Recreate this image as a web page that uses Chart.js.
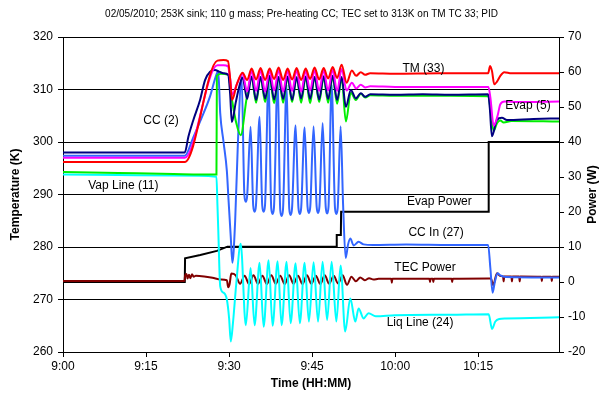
<!DOCTYPE html>
<html lang="en">
<head>
    <meta charset="UTF-8">
    <title>TEC / CC pre-heating run</title>
    <script src="https://cdn.jsdelivr.net/npm/chart.js@4.4.0/dist/chart.umd.min.js"></script>
    <style>
        body { margin: 0; background: #fff; }
        #wrap { width: 603px; height: 398px; }
    </style>
</head>
<body>
    <div id="wrap"><canvas id="chart" width="603" height="398"></canvas></div>

    <script>
        // time is minutes after 9:00, temperatures in K, power in W
        const ccTwo = [
            [0, 298.0], [22.0, 298.0], [22.65, 301.0], [23.55, 304.2], [24.76, 308.0], [25.66, 311.8],
            [26.57, 313.4], [27.47, 313.7], [28.2, 313.4], [29.0, 313.1], [29.85, 312.8], [30.2, 309.0],
            [30.5, 303.8], [31.2, 307.5], [31.9, 310.8], [32.44, 312.3], [33.26, 308.2], [34.07, 312.5],
            [34.88, 308.0], [35.69, 312.4], [36.51, 308.3], [37.32, 312.6], [38.14, 308.1], [38.95, 312.4],
            [39.76, 308.2], [40.57, 312.5], [41.39, 308.0], [42.20, 312.3], [43.02, 308.3], [43.83, 312.5],
            [44.64, 308.2], [45.45, 312.4], [46.27, 308.1], [47.08, 312.5], [47.89, 308.2], [48.71, 312.6],
            [49.52, 308.0], [50.33, 312.4], [51.1, 306.7], [52.0, 309.9], [52.9, 308.3], [53.8, 309.3],
            [54.6, 308.6], [55.5, 309.1], [60, 309.0], [65, 309.1], [70, 309.0], [76.8, 309.1],
            [77.1, 306.5], [77.48, 301.1], [78.38, 304.2], [79.29, 304.6], [80.2, 304.2], [85, 304.4], [89.6, 304.5]
        ];

        const tmThirtyThree = [
            [0, 296.2], [22.0, 296.2], [27.9, 315.5], [29.0, 315.6], [29.8, 315.4], [30.2, 312.0],
            [30.55, 308.0], [31.4, 311.0], [32.44, 313.2], [33.26, 311.8], [34.07, 314.0], [34.88, 311.9],
            [35.69, 314.1], [36.51, 311.8], [37.32, 314.0], [38.14, 312.0], [38.95, 314.2], [39.76, 311.8],
            [40.57, 314.0], [41.39, 311.9], [42.20, 314.1], [43.02, 311.8], [43.83, 314.0], [44.64, 312.0],
            [45.45, 314.2], [46.27, 311.9], [47.08, 314.1], [47.89, 312.1], [48.71, 314.3], [49.52, 312.2],
            [50.33, 314.7], [51.24, 311.3], [52.18, 313.6], [52.95, 312.6], [53.80, 313.3], [54.58, 312.8],
            [55.49, 313.1], [60, 313.0], [68, 313.1], [76.8, 313.1], [77.15, 314.5], [77.5, 313.5],
            [77.9, 311.0], [78.4, 311.5], [79.0, 312.6], [79.7, 313.3], [81, 313.1], [89.6, 313.1]
        ];

        const evapFive = [
            [0, 297.0], [22.0, 297.0], [27.9, 314.6], [29.0, 314.6], [29.8, 314.4], [30.2, 312.0],
            [30.55, 309.0], [31.4, 311.0], [32.44, 313.0], [33.26, 309.6], [34.07, 313.6], [34.88, 309.7],
            [35.69, 313.7], [36.51, 309.6], [37.32, 313.6], [38.14, 309.8], [38.95, 313.7], [39.76, 309.6],
            [40.57, 313.6], [41.39, 309.7], [42.20, 313.7], [43.02, 309.6], [43.83, 313.6], [44.64, 309.8],
            [45.45, 313.7], [46.27, 309.7], [47.08, 313.7], [47.89, 309.8], [48.71, 313.8], [49.52, 309.7],
            [50.33, 313.9], [51.24, 309.8], [52.18, 311.3], [52.95, 310.2], [53.80, 310.9], [54.58, 310.4],
            [55.49, 310.6], [60, 310.5], [70, 310.5], [76.85, 310.5], [77.2, 308.5], [77.8, 303.1],
            [78.5, 305.0], [79.0, 307.2], [79.8, 307.7], [82, 307.6], [89.6, 307.7]
        ];

        const vapLine = [
            [0, 294.3], [10, 294.1], [20, 293.9], [27.72, 293.8], [27.8, 312.6], [28.5, 313.0],
            [29.85, 312.8], [30.5, 308.2], [31.3, 303.6], [32.1, 301.3], [33.2, 308.5], [34.07, 312.3],
            [34.88, 307.5], [35.69, 312.4], [36.51, 307.6], [37.32, 312.3], [38.14, 307.4], [38.95, 312.4],
            [39.76, 307.5], [40.57, 312.3], [41.39, 307.6], [42.20, 312.4], [43.02, 307.5], [43.83, 312.3],
            [44.64, 307.4], [45.45, 312.4], [46.27, 307.6], [47.08, 312.3], [47.89, 307.5], [48.71, 312.4],
            [49.52, 307.3], [50.33, 312.2], [51.1, 303.9], [52.0, 309.4], [52.9, 308.0], [53.8, 309.2],
            [54.6, 308.5], [55.5, 308.9], [60, 308.8], [70, 308.8], [76.85, 308.7], [77.3, 305.5],
            [77.8, 302.1], [78.4, 303.6], [79.0, 304.1], [79.6, 303.7], [81, 304.0], [89.6, 303.9]
        ];

        const ccIn = [
            [0, 297.4], [22.0, 297.4], [23.5, 300.8], [25.0, 304.5], [26.5, 308.5], [27.7, 312.8],
            [28.05, 313.5], [28.4, 305.5], [29.0, 300.0], [29.6, 294.5], [29.9, 289.0], [30.3, 282.0],
            [30.6, 277.0], [31.1, 285.0], [31.6, 300.0], [32.26, 312.5],
            [32.77, 289.8], [33.02, 288.6], [33.27, 289.8], [33.89, 302.9],
            [34.36, 287.9], [34.61, 286.7], [34.86, 287.9], [35.51, 304.8],
            [35.99, 287.9], [36.24, 286.7], [36.49, 287.9], [37.14, 312.4],
            [37.61, 287.5], [37.86, 286.3], [38.11, 287.5], [38.77, 312.5],
            [39.24, 287.1], [39.49, 285.9], [39.74, 287.1], [40.39, 311.0],
            [40.87, 287.3], [41.12, 286.1], [41.37, 287.3], [42.02, 303.2],
            [42.53, 287.5], [42.78, 286.3], [43.03, 287.5], [43.65, 302.8],
            [44.17, 287.7], [44.42, 286.5], [44.67, 287.7], [45.27, 303.0],
            [45.82, 287.7], [46.07, 286.5], [46.32, 287.7], [46.90, 303.6],
            [47.46, 287.6], [47.71, 286.4], [47.96, 287.6], [48.53, 310.9],
            [49.13, 287.5], [49.38, 286.3], [49.63, 287.5], [50.15, 303.0],
            [50.6, 288.0], [51.06, 277.9], [51.5, 280.5], [51.9, 281.6], [52.5, 280.3], [53.4, 281.0],
            [54.3, 280.5], [56, 280.4], [62, 280.5], [70, 280.4], [76.8, 280.4], [77.2, 276.0],
            [77.6, 271.3], [78.0, 273.3], [78.5, 275.0], [79.0, 274.6], [80, 274.3], [89.6, 274.2]
        ];

        const liqLine = [
            [0, 293.8], [10, 293.7], [20, 293.6], [27.72, 293.4], [27.9, 288.0], [28.05, 283.2],
            [28.4, 272.5], [29.0, 271.3], [29.6, 270.0], [30.0, 266.5], [30.31, 262.0], [30.7, 265.5],
            [31.3, 273.0], [32.1, 280.6], [33.02, 265.1], [33.89, 276.0], [34.61, 265.1], [35.51, 277.0],
            [36.24, 264.8], [37.14, 277.5], [37.86, 265.0], [38.77, 277.3], [39.49, 265.1], [40.39, 277.2],
            [41.12, 265.5], [42.02, 276.9], [42.78, 265.5], [43.65, 277.0], [44.42, 265.8], [45.27, 277.1],
            [46.07, 265.8], [46.90, 277.2], [47.71, 266.1], [48.53, 277.2], [49.38, 265.8], [50.15, 276.5],
            [50.97, 263.9], [51.9, 270.2], [52.8, 265.8], [53.4, 268.3], [54.3, 266.4], [55.2, 267.4],
            [56.5, 266.8], [60, 267.0], [70, 267.1], [76.9, 267.2], [77.5, 264.4], [78.1, 265.8],
            [78.8, 266.3], [80, 266.4], [89.6, 266.6]
        ];

        const evapPower = [
            [0, 0], [22.0, 0], [22.05, 6.8], [24.8, 7.7], [27.8, 8.9], [29.7, 10.1], [49.40, 10.1],
            [49.45, 13.4], [50.19, 13.4], [50.24, 20.1], [76.85, 20.1], [76.9, 40.0], [89.6, 40.0]
        ];

        const tecPower = [
            [0, 0.3], [10, 0.3], [21.95, 0.3], [22.05, 1.8], [22.3, 2.3], [22.5, 1.0], [22.75, 2.1],
            [23.0, 1.1], [23.3, 2.2], [23.6, 1.5], [24.0, 1.8], [25.5, 1.6], [27.0, 1.2], [28.5, 0.7],
            [29.6, 0.5], [29.85, -1.5], [30.1, -0.6], [30.4, 2.4], [31.2, 1.9], [31.99, -0.5],
            [32.80, 1.8], [33.62, -0.6], [34.41, 1.9], [35.23, -0.5], [36.02, 1.8], [36.83, -0.6],
            [37.63, 1.9], [38.44, -0.5], [39.24, 1.8], [40.05, -0.6], [40.85, 1.9], [41.66, -0.5],
            [42.45, 1.8], [43.27, -0.6], [44.06, 1.9], [44.88, -0.5], [45.67, 1.8], [46.49, -0.6],
            [47.28, 1.9], [48.09, -0.5], [48.89, 1.8], [49.70, -0.4], [50.50, 1.9], [51.31, -0.8],
            [52.1, 1.5], [52.9, 0.2], [53.7, 1.3], [54.5, 0.5], [55.3, 1.1], [56.1, 0.7], [57.0, 0.9],
            [59.3, 0.9], [59.4, -0.2], [59.5, 0.9], [66.2, 0.9], [66.3, 0.0], [66.4, 0.9], [66.8, 0.9],
            [66.9, 0.0], [67.0, 0.9], [70.2, 0.9], [70.3, 0.0], [70.4, 0.9], [76.9, 1.0], [77.3, 1.0],
            [77.7, -0.9], [78.4, 2.5], [79.0, 1.7], [79.5, 1.6], [79.6, 0.2], [79.7, 1.6], [81.0, 1.6],
            [81.1, 0.2], [81.2, 1.6], [82.4, 1.6], [82.5, 0.2], [82.6, 1.6], [86.4, 1.5], [86.5, 0.2],
            [86.6, 1.5], [88.2, 1.5], [88.3, 0.2], [88.4, 1.5], [89.6, 1.5]
        ];

        const timeTicks = ['9:00', '9:15', '9:30', '9:45', '10:00', '10:15'];

        // text labels placed in data units (minutes, K)
        const notes = [
            { text: 'CC (2)', t: 17.7, v: 304.0 },
            { text: 'Vap Line (11)', t: 10.9, v: 291.6 },
            { text: 'TM (33)', t: 65.1, v: 313.9 },
            { text: 'Evap (5)', t: 84.0, v: 306.9 },
            { text: 'Evap Power', t: 68.0, v: 288.6 },
            { text: 'CC In (27)', t: 67.4, v: 282.7 },
            { text: 'TEC Power', t: 65.4, v: 276.0 },
            { text: 'Liq Line (24)', t: 64.5, v: 265.5 }
        ];

        const FONT = '"Liberation Sans", Arial, sans-serif';
        Chart.defaults.font.family = FONT;
        Chart.defaults.font.size = 12;
        Chart.defaults.color = '#000';

        function toXY(rows) {
            return rows.map(r => ({ x: r[0], y: r[1] }));
        }

        function series(rows, color, axis, smooth) {
            return {
                data: toXY(rows),
                borderColor: color,
                borderWidth: 2,
                pointRadius: 0,
                fill: false,
                yAxisID: axis,
                cubicInterpolationMode: smooth ? 'monotone' : 'default',
                tension: 0
            };
        }

        // text labels next to the curves, plus the right axis title read bottom-to-top
        const notesPlugin = {
            id: 'notes',
            afterDatasetsDraw(chart) {
                const { ctx, scales, chartArea } = chart;
                ctx.save();
                ctx.font = '12px ' + FONT;
                ctx.fillStyle = '#000';
                ctx.textAlign = 'center';
                ctx.textBaseline = 'middle';
                notes.forEach(n => {
                    ctx.fillText(n.text, scales.x.getPixelForValue(n.t), scales.y.getPixelForValue(n.v));
                });
                ctx.translate(scales.y2.right - 10, (chartArea.top + chartArea.bottom) / 2);
                ctx.rotate(-Math.PI / 2);
                ctx.font = 'bold 12px ' + FONT;
                ctx.fillText('Power (W)', 0, 0);
                ctx.restore();
            }
        };

        new Chart(document.getElementById('chart'), {
            type: 'line',
            data: {
                datasets: [
                    series(tmThirtyThree, '#ff0000', 'y', true),
                    series(evapFive, '#ff00ff', 'y', true),
                    series(ccTwo, '#000080', 'y', true),
                    series(vapLine, '#00ee00', 'y', true),
                    series(ccIn, '#3366ff', 'y', true),
                    series(liqLine, '#00ffff', 'y', true),
                    series(tecPower, '#800000', 'y2', true),
                    series(evapPower, '#000000', 'y2', false)
                ]
            },
            options: {
                responsive: false,
                animation: false,
                devicePixelRatio: 1,
                layout: { padding: 0 },
                plugins: {
                    legend: { display: false },
                    tooltip: { enabled: false },
                    title: {
                        display: true,
                        text: '02/05/2010; 253K sink; 110 g mass; Pre-heating CC; TEC set to 313K on TM TC 33; PID',
                        font: { size: 10, weight: 'normal' },
                        color: '#000',
                        padding: { top: 8, bottom: 17 }
                    }
                },
                scales: {
                    x: {
                        type: 'linear',
                        min: 0,
                        max: 89.6,
                        afterFit: s => { s.height = 46; },
                        ticks: {
                            stepSize: 15,
                            includeBounds: false,
                            maxRotation: 0,
                            padding: 2,
                            callback: v => timeTicks[Math.round(v / 15)]
                        },
                        grid: { drawOnChartArea: false, color: '#000', tickLength: 5 },
                        border: { color: '#000' },
                        title: {
                            display: true,
                            text: 'Time (HH:MM)',
                            font: { size: 12, weight: 'bold' },
                            padding: { top: 0, bottom: 7 }
                        }
                    },
                    y: {
                        position: 'left',
                        min: 260,
                        max: 320,
                        afterFit: s => { s.width = 63; },
                        ticks: { stepSize: 10, padding: 5 },
                        grid: { color: '#000', tickLength: 5 },
                        border: { color: '#000' },
                        title: {
                            display: true,
                            text: 'Temperature (K)',
                            font: { size: 12, weight: 'bold' },
                            padding: { top: 8, bottom: 0 }
                        }
                    },
                    y2: {
                        position: 'right',
                        min: -20,
                        max: 70,
                        afterFit: s => { s.width = 44; },
                        ticks: { stepSize: 10, padding: 4 },
                        grid: { drawOnChartArea: false, color: '#000', tickLength: 5 },
                        border: { color: '#000' }
                    }
                }
            },
            plugins: [notesPlugin]
        });
    </script>
</body>
</html>
